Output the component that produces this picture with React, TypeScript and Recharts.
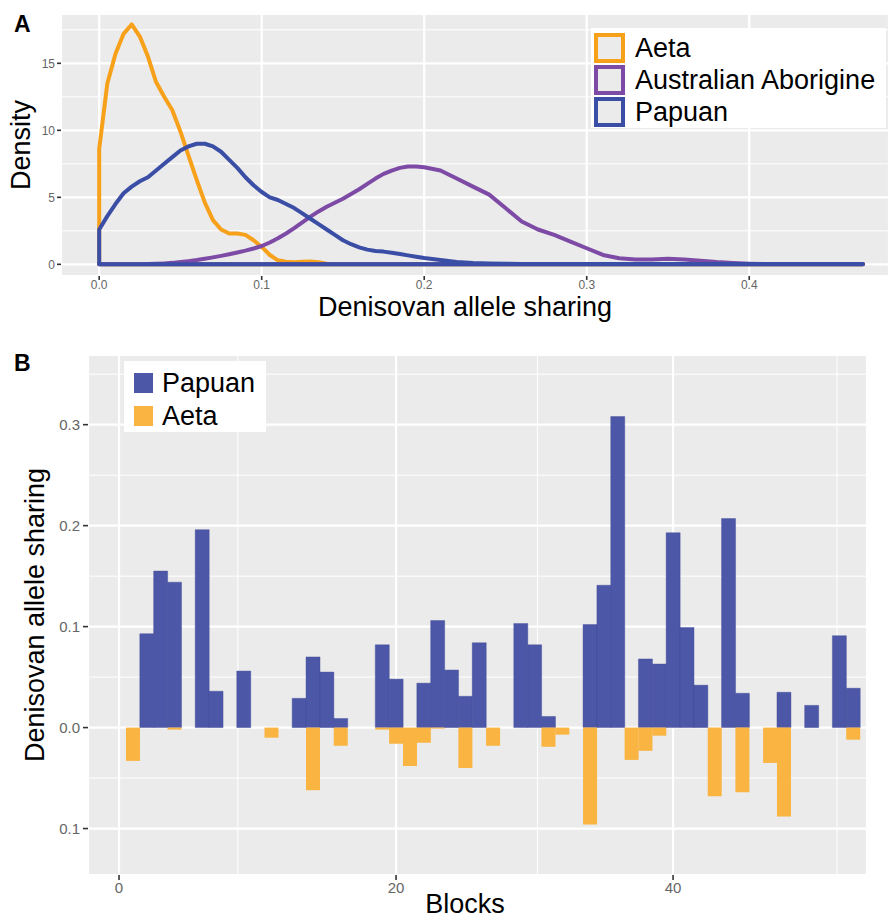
import React from 'react';
import { ComposedChart, Line, Bar, XAxis, YAxis, CartesianGrid, Legend } from 'recharts';

// ---------- Panel A: density of Denisovan allele sharing ----------
const densityX = [
  0, 0.005, 0.01, 0.015, 0.02, 0.025, 0.03, 0.035, 0.04, 0.045,
  0.05, 0.055, 0.06, 0.065, 0.07, 0.075, 0.08, 0.085, 0.09, 0.095,
  0.1, 0.105, 0.11, 0.115, 0.12, 0.125, 0.13, 0.135, 0.14, 0.145,
  0.15, 0.155, 0.16, 0.165, 0.17, 0.175, 0.18, 0.185, 0.19, 0.195,
  0.2, 0.21, 0.22, 0.23, 0.24, 0.25, 0.26, 0.27, 0.28, 0.29,
  0.3, 0.31, 0.32, 0.33, 0.34, 0.35, 0.36, 0.37, 0.38, 0.39,
  0.4, 0.41, 0.42, 0.43, 0.44, 0.45, 0.46, 0.47,
];
const aetaDensity = [
  8.6, 13.5, 15.7, 17.2, 17.9, 17.0, 15.5, 13.6, 12.5, 11.5,
  9.9, 8.1, 6.3, 4.6, 3.3, 2.6, 2.3, 2.3, 2.2, 1.8,
  1.3, 0.7, 0.3, 0.2, 0.15, 0.2, 0.22, 0.15, 0.05, 0.02,
  0, 0, 0, 0, 0, 0, 0, 0, 0, 0,
  0, 0, 0, 0, 0, 0, 0, 0, 0, 0,
  0, 0, 0, 0, 0, 0, 0, 0, 0, 0,
  0, 0, 0, 0, 0, 0, 0, 0,
];
const aborigineDensity = [
  0, 0, 0, 0, 0, 0.01, 0.02, 0.04, 0.07, 0.11,
  0.17, 0.24, 0.32, 0.42, 0.52, 0.63, 0.75, 0.88, 1.02, 1.18,
  1.37, 1.63, 1.94, 2.3, 2.7, 3.13, 3.56, 3.95, 4.3, 4.6,
  4.9, 5.25, 5.6, 6.0, 6.4, 6.75, 7.0, 7.2, 7.3, 7.3,
  7.25, 7.0, 6.4, 5.8, 5.2, 4.2, 3.2, 2.6, 2.2, 1.7,
  1.2, 0.7, 0.45, 0.37, 0.37, 0.42, 0.37, 0.27, 0.17, 0.1,
  0.05, 0.02, 0.01, 0.01, 0.01, 0.01, 0.01, 0.01,
];
const papuanDensity = [
  2.6, 3.6, 4.5, 5.3, 5.8, 6.2, 6.5, 7.0, 7.5, 8.0,
  8.5, 8.8, 9.0, 9.0, 8.8, 8.4, 7.8, 7.2, 6.5, 5.9,
  5.4, 5.0, 4.8, 4.5, 4.2, 3.8, 3.4, 3.0, 2.6, 2.2,
  1.8, 1.5, 1.27, 1.1, 1.0, 0.95, 0.87, 0.77, 0.67, 0.57,
  0.47, 0.32, 0.17, 0.1, 0.06, 0.04, 0.03, 0.03, 0.03, 0.03,
  0.03, 0.02, 0.02, 0.02, 0.02, 0.02, 0.02, 0.02, 0.02, 0.02,
  0.02, 0.02, 0.02, 0.02, 0.02, 0.02, 0.02, 0.02,
];
const densityNames = ['Aeta', 'Australian Aborigine', 'Papuan'];
const densityColors = ['#F7A11A', '#7D4BA5', '#3B4EA5'];
const densityXTicks = [0, 0.1, 0.2, 0.3, 0.4];
const densityXMinor = [0.05, 0.15, 0.25, 0.35, 0.45];
const densityYTicks = [0, 5, 10, 15];
const densityYMinor = [2.5, 7.5, 12.5, 17.5];

// ---------- Panel B: per-block allele sharing ----------
const blocks = [
  1, 2, 3, 4, 5, 6, 7, 8, 9, 10,
  11, 12, 13, 14, 15, 16, 17, 18, 19, 20,
  21, 22, 23, 24, 25, 26, 27, 28, 29, 30,
  31, 32, 33, 34, 35, 36, 37, 38, 39, 40,
  41, 42, 43, 44, 45, 46, 47, 48, 49, 50,
  51, 52, 53,
];
const papuanSharing = [
  0, 0.093, 0.155, 0.144, 0, 0.196, 0.036, 0, 0.056, 0,
  0, 0, 0.029, 0.070, 0.055, 0.009, 0, 0, 0.082, 0.048,
  0, 0.044, 0.106, 0.057, 0.031, 0.084, 0, 0, 0.103, 0.082,
  0.011, 0, 0, 0.102, 0.141, 0.308, 0, 0.068, 0.063, 0.193,
  0.099, 0.042, 0, 0.207, 0.034, 0, 0, 0.035, 0, 0.022,
  0, 0.091, 0.039,
];
const aetaSharing = [
  -0.033, 0, 0, -0.002, 0, 0, 0, 0, 0, 0,
  -0.010, 0, 0, -0.062, 0, -0.018, 0, 0, -0.002, -0.016,
  -0.038, -0.015, -0.001, 0, -0.040, 0, -0.018, 0, 0, 0,
  -0.019, -0.007, 0, -0.096, 0, 0, -0.032, -0.023, -0.008, 0,
  0, 0, -0.068, 0, -0.064, 0, -0.035, -0.088, 0, 0,
  0, 0, -0.012,
];
const barNames = ['Papuan', 'Aeta'];
const barColors = ['#4C57A7', '#F9B441'];
const blockTicks = [0, 20, 40];
const blockMinor = [10, 30, 50];
const sharingTicks = [-0.1, 0, 0.1, 0.2, 0.3];
const sharingMinor = [-0.05, 0.05, 0.15, 0.25, 0.35];

const closedCurve = (ys: number[]) => {
  const pts: { x: number; y: number }[] = [{ x: densityX[0], y: 0 }];
  densityX.forEach((x, i) => pts.push({ x, y: ys[i] }));
  pts.push({ x: densityX[densityX.length - 1], y: 0 });
  pts.push({ x: densityX[0], y: 0 });
  return pts;
};
const densitySeries = [aetaDensity, aborigineDensity, papuanDensity].map((ys, i) => ({
  name: densityNames[i],
  color: densityColors[i],
  data: closedCurve(ys),
}));

const barData = blocks.map((b, i) => ({ block: b, papuan: papuanSharing[i], aeta: aetaSharing[i] }));

const FONT = '"Liberation Sans", Arial, Helvetica, sans-serif';
const GRID_BG = '#EBEBEB';

const LegendA = () => (
  <div style={{ background: '#fff', width: 295, height: 100, boxSizing: 'border-box', padding: '4px 0 0 3px', fontFamily: FONT }}>
    {densitySeries.map((s) => (
      <div key={s.name} style={{ display: 'flex', alignItems: 'center', height: 32 }}>
        <div style={{ width: 31, height: 30, boxSizing: 'border-box', border: `4px solid ${s.color}`, background: GRID_BG }} />
        <span style={{ marginLeft: 10, fontSize: 27, color: '#000', lineHeight: '30px', whiteSpace: 'nowrap' }}>{s.name}</span>
      </div>
    ))}
  </div>
);

const LegendB = () => (
  <div style={{ background: '#fff', width: 142, height: 71, boxSizing: 'border-box', padding: '5px 0 0 10px', fontFamily: FONT }}>
    {barNames.map((n, i) => (
      <div key={n} style={{ display: 'flex', alignItems: 'center', height: 33 }}>
        <div style={{ width: 19, height: 20, background: barColors[i] }} />
        <span style={{ marginLeft: 9, fontSize: 27, color: '#000', lineHeight: '30px', whiteSpace: 'nowrap' }}>{n}</span>
      </div>
    ))}
  </div>
);

const abs = (v: number) => (v === 0 ? '0.0' : Math.abs(v).toFixed(1));

const textStyle = (fs: number): React.CSSProperties => ({
  position: 'absolute', fontFamily: FONT, fontSize: fs, lineHeight: 1, color: '#000', whiteSpace: 'nowrap',
});

export default function App() {
  return (
    <div style={{ position: 'absolute', left: 0, top: 0, width: 889, height: 919, background: '#fff', fontFamily: FONT, overflow: 'hidden' }}>
      {/* Panel A */}
      <div style={{ position: 'absolute', left: 0, top: 0 }}>
        <ComposedChart width={889} height={330} margin={{ top: 14, right: 0, bottom: 0, left: 0 }}>
          <CartesianGrid xAxisId="minor" yAxisId="minor" stroke="#fff" strokeWidth={1} fill={GRID_BG} />
          <CartesianGrid stroke="#fff" strokeWidth={2.2} />
          <XAxis xAxisId="minor" type="number" domain={[-0.0235, 0.486]} ticks={densityXMinor} allowDataOverflow hide />
          <YAxis yAxisId="minor" type="number" domain={[-0.87, 18.68]} ticks={densityYMinor} allowDataOverflow hide />
          <XAxis
            dataKey="x" type="number" domain={[-0.0235, 0.486]} ticks={densityXTicks} allowDataOverflow
            tickFormatter={(v: number) => v.toFixed(1)} height={54} axisLine={false}
            tickSize={4} tickMargin={0} tickLine={{ stroke: '#333', strokeWidth: 1.6 }}
            tick={{ fontSize: 12, fill: '#666', fontFamily: FONT }}
          />
          <YAxis
            type="number" domain={[-0.87, 18.68]} ticks={densityYTicks} allowDataOverflow width={61} axisLine={false}
            tickSize={4} tickMargin={2} tickLine={{ stroke: '#333', strokeWidth: 1.6 }}
            tick={{ fontSize: 12, fill: '#666', fontFamily: FONT }}
          />
          {densitySeries.map((s) => (
            <Line
              key={s.name} data={s.data} dataKey="y" name={s.name} type="linear" stroke={s.color} strokeWidth={4}
              strokeLinejoin="round" strokeLinecap="round" dot={false} activeDot={false} isAnimationActive={false}
            />
          ))}
          <Legend layout="vertical" align="center" verticalAlign="middle" wrapperStyle={{ left: 591, top: 28, width: 295, height: 100 }} content={<LegendA />} />
        </ComposedChart>
      </div>

      {/* Panel B */}
      <div style={{ position: 'absolute', left: 0, top: 330 }}>
        <ComposedChart width={889} height={589} data={barData} margin={{ top: 25, right: 22, bottom: 0, left: 0 }}
          barCategoryGap={0} barGap={0} stackOffset="sign">
          <CartesianGrid xAxisId="minor" yAxisId="minor" stroke="#fff" strokeWidth={1} fill={GRID_BG} />
          <CartesianGrid stroke="#fff" strokeWidth={2.2} />
          <XAxis xAxisId="minor" type="number" domain={[-2.24, 54.0]} ticks={blockMinor} allowDataOverflow hide />
          <YAxis yAxisId="minor" type="number" domain={[-0.146, 0.369]} ticks={sharingMinor} allowDataOverflow hide />
          <XAxis
            dataKey="block" type="number" domain={[-2.24, 54.0]} ticks={blockTicks} allowDataOverflow height={44}
            axisLine={false} tickSize={5} tickMargin={2} tickLine={{ stroke: '#333', strokeWidth: 1.6 }}
            tick={{ fontSize: 15, fill: '#666', fontFamily: FONT }}
          />
          <YAxis
            type="number" domain={[-0.146, 0.369]} ticks={sharingTicks} allowDataOverflow width={88} axisLine={false}
            tickFormatter={abs} tickSize={5} tickMargin={3} tickLine={{ stroke: '#333', strokeWidth: 1.6 }}
            tick={{ fontSize: 15, fill: '#666', fontFamily: FONT }}
          />
          <Bar dataKey="papuan" name={barNames[0]} stackId="s" fill={barColors[0]} stroke="#3F4A98" strokeWidth={0.4} isAnimationActive={false} />
          <Bar dataKey="aeta" name={barNames[1]} stackId="s" fill={barColors[1]} isAnimationActive={false} />
          <Legend layout="vertical" align="center" verticalAlign="middle" wrapperStyle={{ left: 124, top: 31, width: 142, height: 71 }} content={<LegendB />} />
        </ComposedChart>
      </div>

      {/* Titles and panel letters */}
      <div style={{ ...textStyle(23), left: 14, top: 13, fontWeight: 'bold' }}>A</div>
      <div style={{ ...textStyle(23), left: 14, top: 352, fontWeight: 'bold' }}>B</div>
      <div style={{ ...textStyle(27), left: 21, top: 145, transform: 'translate(-50%, -50%) rotate(-90deg)' }}>Density</div>
      <div style={{ ...textStyle(27), lineHeight: 0.8, left: 465, top: 297, transform: 'translateX(-50%)' }}>Denisovan allele sharing</div>
      <div style={{ ...textStyle(27), left: 35, top: 615, transform: 'translate(-50%, -50%) rotate(-90deg)' }}>Denisovan allele sharing</div>
      <div style={{ ...textStyle(27), left: 465, top: 891, transform: 'translateX(-50%)' }}>Blocks</div>
    </div>
  );
}
